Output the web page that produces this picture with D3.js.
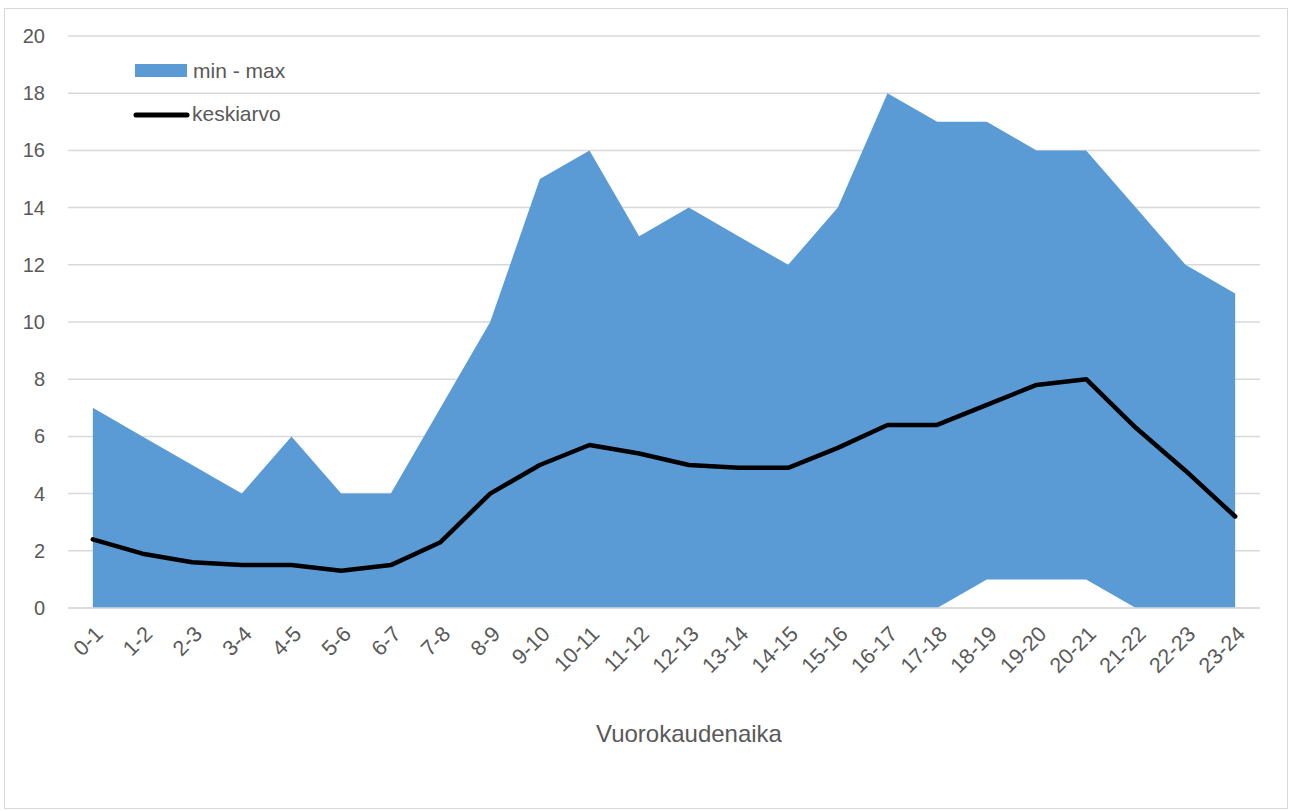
<html>
<head>
<script src="https://d3js.org/d3.v7.min.js"></script>
<style>
  body { margin: 0; background: #fff; }
  text { font-family: "Liberation Sans", Arial, sans-serif; fill: #595959; }
</style>
</head>
<body>
<svg id="A" width="1290" height="811"></svg>
<script>
// hour ranges of the day
const hours = ["0-1","1-2","2-3","3-4","4-5","5-6","6-7","7-8","8-9","9-10","10-11","11-12",
  "12-13","13-14","14-15","15-16","16-17","17-18","18-19","19-20","20-21","21-22","22-23","23-24"];
const maxVals = [7,6,5,4,6,4,4,7,10,15,16,13,14,13,12,14,18,17,17,16,16,14,12,11];
const minVals = [0,0,0,0,0,0,0,0,0,0,0,0,0,0,0,0,0,0,1,1,1,0,0,0];
const avgVals = [2.4,1.9,1.6,1.5,1.5,1.3,1.5,2.3,4.0,5.0,5.7,5.4,5.0,4.9,4.9,5.6,6.4,6.4,7.1,7.8,8.0,6.3,4.8,3.2];
const yTicks = [0,2,4,6,8,10,12,14,16,18,20];

let svg = d3.select("svg#A");

// chart frame
svg.append("rect")
  .attr("x", 4.5).attr("y", 8.5)
  .attr("width", 1283).attr("height", 800)
  .attr("fill", "none").attr("stroke", "#d9d9d9");

const plotLeft = 68, plotRight = 1260, plotTop = 36, plotBottom = 608;

const x = d3.scaleBand().domain(hours).range([plotLeft, plotRight]);
const y = d3.scaleLinear().domain([0, 20]).range([plotBottom, plotTop]);
const cx = d => x(d) + x.bandwidth() / 2;

// gridlines
svg.append("g").selectAll("line").data(yTicks).join("line")
  .attr("x1", plotLeft).attr("x2", plotRight)
  .attr("y1", d => y(d)).attr("y2", d => y(d))
  .attr("stroke", "#d9d9d9").attr("stroke-width", 1.5);

const rows = hours.map((h, i) => ({h: h, min: minVals[i], max: maxVals[i], avg: avgVals[i]}));

// min - max band
svg.append("path").datum(rows)
  .attr("fill", "#5b9bd5")
  .attr("d", d3.area().x(d => cx(d.h)).y0(d => y(d.min)).y1(d => y(d.max)));

// baseline axis
svg.append("line")
  .attr("x1", plotLeft).attr("x2", plotRight)
  .attr("y1", y(0)).attr("y2", y(0))
  .attr("stroke", "#d9d9d9").attr("stroke-width", 1.5);

// average line
svg.append("path").datum(rows)
  .attr("fill", "none").attr("stroke", "#000").attr("stroke-width", 4.5)
  .attr("stroke-linejoin", "round").attr("stroke-linecap", "round")
  .attr("d", d3.line().x(d => cx(d.h)).y(d => y(d.avg)));

// y tick labels
svg.append("g").selectAll("text").data(yTicks).join("text")
  .attr("x", 45).attr("y", d => y(d))
  .attr("dy", "0.35em").attr("text-anchor", "end")
  .attr("font-size", 20)
  .text(d => d);

// x tick labels, rotated
svg.append("g").selectAll("text").data(hours).join("text")
  .attr("transform", d => `translate(${cx(d) + 6},${plotBottom + 22}) rotate(-45)`)
  .attr("text-anchor", "end").attr("dy", "0.35em")
  .attr("font-size", 21.5)
  .text(d => d);

// axis title
svg.append("text")
  .attr("x", 689).attr("y", 742)
  .attr("text-anchor", "middle").attr("font-size", 24)
  .text("Vuorokaudenaika");

// legend
svg.append("rect").attr("x", 135).attr("y", 64).attr("width", 52).attr("height", 13).attr("fill", "#5b9bd5");
svg.append("text").attr("x", 193).attr("y", 71).attr("dy", "0.35em").attr("font-size", 21).text("min - max");
svg.append("line").attr("x1", 136).attr("x2", 187).attr("y1", 115).attr("y2", 115)
  .attr("stroke", "#000").attr("stroke-width", 5).attr("stroke-linecap", "round");
svg.append("text").attr("x", 192).attr("y", 114).attr("dy", "0.35em").attr("font-size", 21).text("keskiarvo");
</script>
</body>
</html>
